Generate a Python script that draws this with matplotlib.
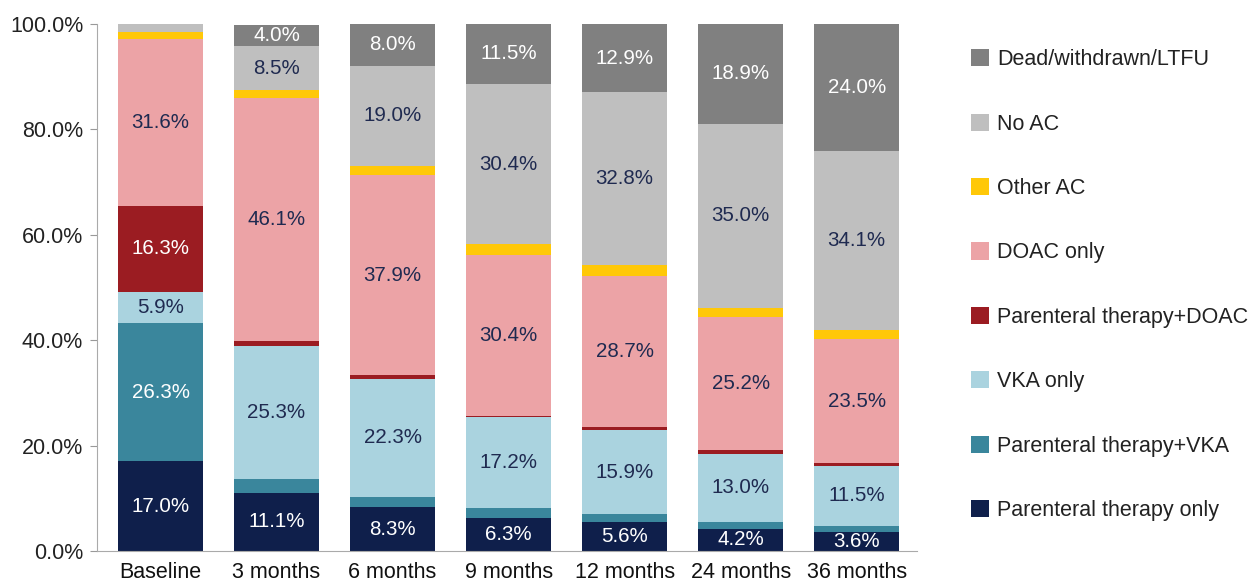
import numpy as np
import matplotlib
matplotlib.use('Agg')
import matplotlib.pyplot as plt
from matplotlib.patches import Patch

plt.rcParams['font.family'] = ['Liberation Sans', 'DejaVu Sans']

# Data (percent of patients), bottom to top of each bar
categories = ['Baseline', '3 months', '6 months', '9 months', '12 months', '24 months', '36 months']
series_names = ['Parenteral therapy only', 'Parenteral therapy+VKA', 'VKA only',
                'Parenteral therapy+DOAC', 'DOAC only', 'Other AC', 'No AC',
                'Dead/withdrawn/LTFU']
parenteral_only = [17.0, 11.1, 8.3, 6.3, 5.6, 4.2, 3.6]
parenteral_vka = [26.3, 2.6, 2.0, 1.9, 1.4, 1.3, 1.1]
vka_only = [5.9, 25.3, 22.3, 17.2, 15.9, 13.0, 11.5]
parenteral_doac = [16.3, 0.8, 0.8, 0.3, 0.6, 0.7, 0.5]
doac_only = [31.6, 46.1, 37.9, 30.4, 28.7, 25.2, 23.5]
other_ac = [1.4, 1.5, 1.8, 2.1, 2.1, 1.7, 1.7]
no_ac = [1.5, 8.5, 19.0, 30.4, 32.8, 35.0, 34.1]
dead = [0.0, 4.0, 8.0, 11.5, 12.9, 18.9, 24.0]

series = [parenteral_only, parenteral_vka, vka_only, parenteral_doac,
          doac_only, other_ac, no_ac, dead]
colors = ['#0f1f4b', '#3a869c', '#aad3df', '#9b1c22', '#eca3a6', '#ffc808', '#bfbfbf', '#808080']
text_colors = ['white', 'white', '#1f2a50', 'white', '#1f2a50', '#1f2a50', '#1f2a50', 'white']

fig = plt.figure(figsize=(12.52, 5.87), dpi=100)
ax = fig.add_axes([0.0775, 0.0613, 0.655, 0.8977])

x = np.arange(len(categories))
bottom = np.zeros(len(categories))
for vals, col, tcol in zip(series, colors, text_colors):
    vals = np.array(vals)
    ax.bar(x, vals, width=0.73, bottom=bottom, color=col, edgecolor='none')
    for i, v in enumerate(vals):
        if v > 3:
            ax.text(x[i], bottom[i] + v / 2, f'{v:.1f}%', ha='center', va='center',
                    color=tcol, fontsize=14.8)
    bottom += vals

ax.set_xlim(-0.547, 6.52)
ax.set_ylim(0, 100)
ax.set_yticks(np.arange(0, 101, 20))
ax.set_yticklabels([f'{t:.1f}%' for t in np.arange(0, 101, 20)], fontsize=15.5, color='#222222')
ax.set_xticks(x)
ax.set_xticklabels(categories, fontsize=15.5, color='#111111')
ax.tick_params(axis='x', length=0, pad=8)
ax.tick_params(axis='y', length=5, color='#999999', pad=5)
for s in ['top', 'right']:
    ax.spines[s].set_visible(False)
ax.spines['left'].set_color('#aaaaaa')
ax.spines['bottom'].set_color('#aaaaaa')

handles = [Patch(facecolor=c, edgecolor='none') for c in colors][::-1]
fig.legend(handles, series_names[::-1], loc='upper left', bbox_to_anchor=(0.7756, 0.9165),
           frameon=False, fontsize=15.5, handlelength=0.84, handleheight=0.84,
           labelspacing=2.02, handletextpad=0.37, borderpad=0, borderaxespad=0,
           labelcolor='#222222')

fig.savefig('out.png', dpi=100)
